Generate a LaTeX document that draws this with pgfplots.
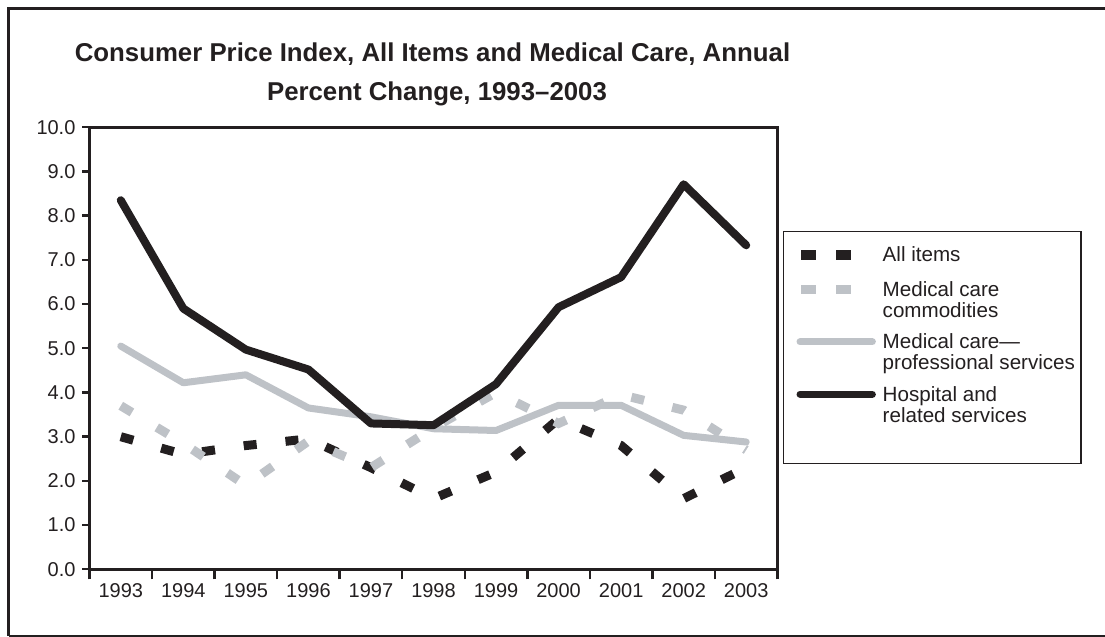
\documentclass[border=0pt]{standalone}
\usepackage{fontspec}
\setmainfont{Liberation Sans}
\usepackage{pgfplots}
\pgfplotsset{compat=1.18}
\definecolor{ink}{RGB}{35,31,32}
\definecolor{lgray}{RGB}{190,194,199}
\pgfplotsset{
  dashleg/.style={legend image code/.code={\path (0pt,0pt) (45pt,0pt);
    \draw[##1, line width=4.7pt, dash pattern=on 7.5pt off 10pt] (6.5pt,3.4pt) -- (31.5pt,3.4pt);}},
  lineleg/.style={legend image code/.code={\path (0pt,0pt) (45pt,0pt);
    \draw[##1, line width=3.7pt] (6pt,3.4pt) -- (42pt,3.4pt);}},
}

\begin{document}
\begin{tikzpicture}
\path[use as bounding box] (0,0) rectangle (552.5pt,318.5pt);
\draw[ink, line width=1.7pt] (4.35pt,0.6pt) -- (4.35pt,314.35pt) -- (552.5pt,314.35pt);
\draw[ink, line width=1.1pt] (4.35pt,0.6pt) -- (552.5pt,0.6pt);
\begin{axis}[
  scale only axis, width=344pt, height=221pt,
  at={(44.75pt,33.85pt)}, anchor=south west,
  xmin=-0.5, xmax=10.5, ymin=0, ymax=10,
  xtick={0,...,10},
  xticklabels={1993,1994,1995,1996,1997,1998,1999,2000,2001,2002,2003},
  minor xtick={-0.5,0.5,...,10.5},
  ytick={0,...,10},
  xtick pos=bottom, ytick pos=left,
  tick align=outside,
  major tick length=3.5pt,
  minor tick length=5pt,
  major x tick style={draw=none},
  minor x tick style={ink, line width=1.2pt},
  ytick style={ink, line width=1.2pt},
  axis line style={ink, line width=1.3pt},
  tick label style={font=\fontsize{10}{12}\selectfont, text=ink},
  /pgf/number format/assume math mode=true,
  y tick label style={/pgf/number format/fixed, /pgf/number format/fixed zerofill, /pgf/number format/precision=1},
  legend style={at={(rel axis cs:1.008,0.7654)}, anchor=north west,
    draw=ink, line width=0.7pt, inner xsep=0pt, inner ysep=7.65pt,
    font=\fontsize{10.3}{10.5}\selectfont, text=ink,
    nodes={inner sep=0pt, text depth=},
    cells={anchor=base west},
    row sep=5pt, column sep=0pt},
]
\addplot[ink, line width=4.5pt, line cap=butt, dash pattern=on 6.5pt off 14.5pt, dashleg]
  coordinates {(0,3.0) (1,2.6) (2,2.8) (3,2.95) (4,2.3) (5,1.6) (6,2.2) (7,3.4) (8,2.8) (9,1.6) (10,2.3)};
\addlegendentry{\begin{tabular}[t]{@{}l@{\hspace{3pt}}}All items\rule[-4.65pt]{0pt}{0pt}\end{tabular}}
\addplot[lgray, line width=4.5pt, line cap=butt, dash pattern=on 6.5pt off 14.5pt, dashleg]
  coordinates {(0,3.7) (1,2.85) (2,1.9) (3,2.9) (4,2.3) (5,3.2) (6,4.0) (7,3.3) (8,3.95) (9,3.6) (10,2.7)};
\addlegendentry{\begin{tabular}[t]{@{}l@{\hspace{3pt}}}Medical care\\commodities\end{tabular}}
\addplot[lgray, line width=3.5pt, line cap=round, line join=round, lineleg]
  coordinates {(0,5.05) (1,4.22) (2,4.40) (3,3.65) (4,3.45) (5,3.18) (6,3.14) (7,3.71) (8,3.71) (9,3.03) (10,2.88)};
\addlegendentry{\begin{tabular}[t]{@{}l@{\hspace{3pt}}}Medical care---\\professional services\end{tabular}}
\addplot[ink, line width=4pt, line cap=round, line join=round, lineleg]
  coordinates {(0,8.35) (1,5.9) (2,4.97) (3,4.52) (4,3.30) (5,3.26) (6,4.19) (7,5.93) (8,6.61) (9,8.71) (10,7.33)};
\addlegendentry{\begin{tabular}[t]{@{}l@{\hspace{3pt}}}Hospital and\\related services\rule[-12.85pt]{0pt}{0pt}\end{tabular}}
\end{axis}
\node[anchor=base, font=\fontsize{12.9}{15}\bfseries, text=ink] at (216.25pt,287.65pt) {Consumer Price Index, All Items and Medical Care, Annual};
\node[anchor=base, font=\fontsize{12.9}{15}\bfseries, text=ink] at (218.5pt,268pt) {Percent Change, 1993--2003};
\end{tikzpicture}
\end{document}
